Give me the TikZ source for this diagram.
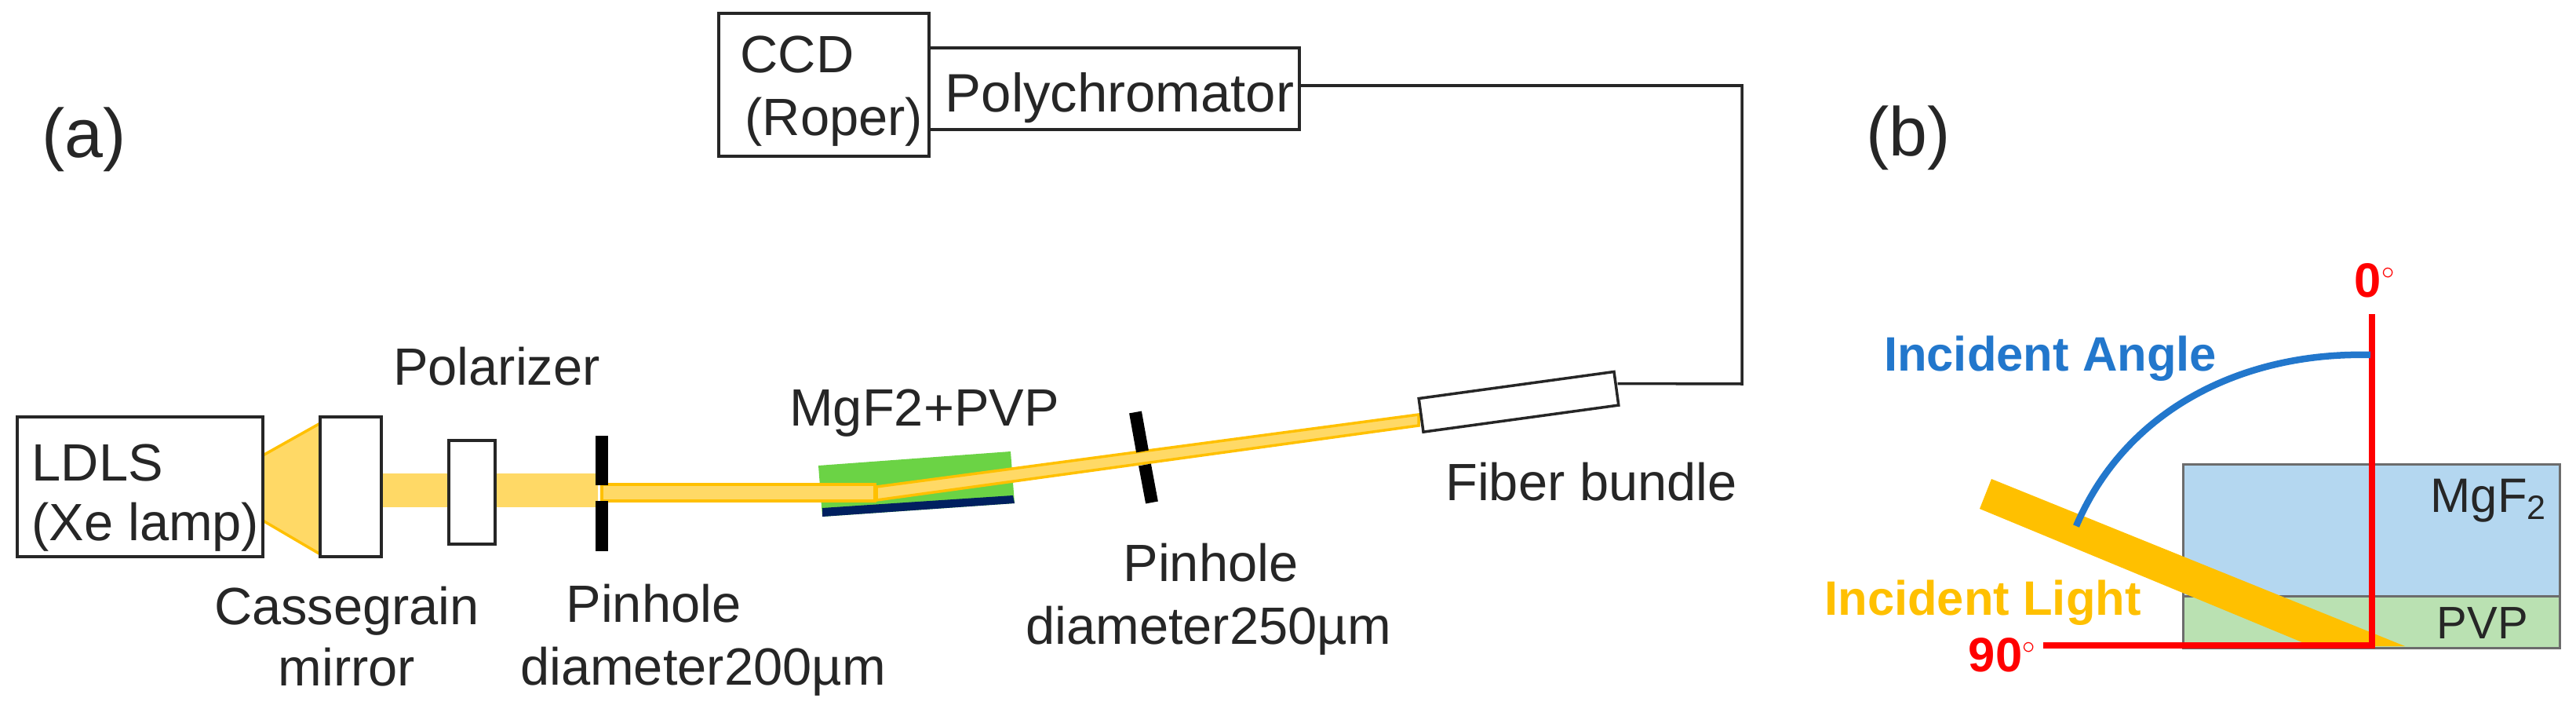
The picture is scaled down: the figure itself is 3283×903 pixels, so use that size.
\documentclass[tikz,border=0pt]{standalone}
\usepackage{fontspec}
\setmainfont{Liberation Sans}
\usepackage{tikz}
\definecolor{beamlight}{HTML}{FFD966}
\definecolor{beamedge}{HTML}{FFC000}
\definecolor{samplegreen}{HTML}{6BD345}
\definecolor{samplenavy}{HTML}{002060}
\definecolor{mgfblue}{HTML}{B4D7F0}
\definecolor{pvpgreen}{HTML}{BAE1B2}
\definecolor{anglered}{HTML}{FF0000}
\definecolor{angleblue}{HTML}{2277CC}
\definecolor{inktext}{HTML}{262626}
\tikzset{
  lbl/.style={inner sep=0pt,anchor=base,text=inktext,font=\fontsize{19}{22}\selectfont},
  panel/.style={inner sep=0pt,anchor=base,text=inktext,font=\fontsize{25}{30}\selectfont},
  boldlbl/.style={inner sep=0pt,anchor=base,font=\fontsize{17.5}{21}\selectfont\bfseries},
  box/.style={draw=inktext,line width=0.035cm,fill=white,inner sep=0pt},
  layer/.style={draw=gray!85!black,line width=0.03cm,inner sep=0pt},
  pinbar/.style={line width=0.16cm,black},
  wire/.style={draw=inktext,line width=0.035cm},
  beam/.style={fill=beamlight,draw=beamedge,line width=0.035cm}
}
\begin{document}
\begin{tikzpicture}[x=0.01cm,y=-0.01cm]
\useasboundingbox (0,0) rectangle (3283,903);
% (a) light path
\fill[beamlight] (486,603) rectangle (762,646);
\draw[beam] (335,580) -- (410,538) -- (410,707) -- (335,663) -- cycle;
\fill[samplegreen] (1043,593) -- (1288,575) -- (1293,641) -- (1048,658) -- cycle;
\fill[samplenavy] (1048,647) -- (1291,631) -- (1293,641) -- (1048,658) -- cycle;
\draw[beam] (767,617) rectangle (1115,638);
\draw[beam] (1117,620) -- (1808,528) -- (1808,542) -- (1117,637) -- cycle;
\draw[pinbar] (767,555) -- (767,618) (767,638) -- (767,702);
\draw[pinbar] (1447,525) -- (1456,575) (1459,592) -- (1468,640);
% (a) boxes
\node[box,minimum width=3.13cm,minimum height=1.78cm] (ldls) at (178.5,620) {};
\node[box,minimum width=0.78cm,minimum height=1.78cm] (casse) at (447,620) {};
\node[box,minimum width=0.59cm,minimum height=1.32cm] (polar) at (601.5,627) {};
\node[box,minimum width=2.68cm,minimum height=1.82cm] (ccd) at (1050,108) {};
\node[box,minimum width=4.72cm,minimum height=1.04cm] (poly) at (1420,113) {};
\node[box,rotate=7.8,minimum width=2.51cm,minimum height=0.43cm] (fiber) at (1935.5,511.8) {};
\coordinate (bendtop) at (2220,109);
\coordinate (bendlow) at (2220,489);
\draw[wire] ([yshift=0.04cm]poly.east) -- (bendtop) -- (bendlow) -- ([yshift=0.06cm]fiber.east);
% (a) labels
\node[panel] (labela) at (107,200) {(a)};
\node[lbl,anchor=base west] (ldlstop) at (40,612) {LDLS};
\node[lbl,anchor=base west] (ldlsbot) at (40,688) {(Xe lamp)};
\node[lbl,anchor=base west] (ccdtop) at (943,93) {CCD};
\node[lbl,anchor=base west] (ccdbot) at (949,172) {(Roper)};
\node[lbl,anchor=base west,font=\fontsize{19.6}{22}\selectfont] (polylbl) at (1204,143) {Polychromator};
\node[lbl] (polarlbl) at (633,490) {Polarizer};
\node[lbl] (cassetop) at (442,795) {Cassegrain};
\node[lbl] (cassebot) at (442,873) {mirror};
\node[lbl] (pinatop) at (833,792) {Pinhole};
\node[lbl] (pinabot) at (896,872) {diameter200µm};
\node[lbl] (samplelbl) at (1178,542) {MgF2+PVP};
\node[lbl] (pinbtop) at (1543,740) {Pinhole};
\node[lbl] (pinbbot) at (1540,820) {diameter250µm};
\node[lbl] (fiberlbl) at (2028,637) {Fiber bundle};
% (b) sample and incidence
\node[panel] (labelb) at (2432,198) {(b)};
\node[layer,fill=mgfblue,minimum width=4.79cm,minimum height=1.68cm] (mgfbox) at (3022.5,676) {};
\node[layer,fill=pvpgreen,minimum width=4.79cm,minimum height=0.65cm] (pvpbox) at (3022.5,792.5) {};
\fill[beamedge] (2538,610) -- (2523,648) -- (2946,823) -- (3065,823) -- cycle;
\coordinate (origin) at (3023,822);
\coordinate (normaltop) at (3023,400);
\coordinate (grazeend) at (2604,822);
\draw[anglered,line width=0.08cm] (normaltop) -- (origin);
\draw[anglered,line width=0.08cm] (grazeend) -- ([xshift=0.04cm]origin);
\draw[angleblue,line width=0.085cm] (3021,452) .. controls (2860,448) and (2710,520) .. (2646,670);
\node[lbl,font=\fontsize{17.5}{21}\selectfont] (mgflbl) at (3172,652) {MgF\textsubscript{2}};
\node[lbl,font=\fontsize{16.5}{20}\selectfont] (pvplbl) at (3164,813) {PVP};
\node[boldlbl,text=angleblue] (anglelbl) at (2613,472) {Incident Angle};
\node[boldlbl,text=beamedge] (lightlbl) at (2527,783) {Incident Light};
\node[boldlbl,text=anglered] (zerolbl) at (3027,378) {0$^{\scriptscriptstyle\circ}$};
\node[boldlbl,text=anglered] (ninetylbl) at (2552,855) {90$^{\scriptscriptstyle\circ}$};
\end{tikzpicture}
\end{document}
